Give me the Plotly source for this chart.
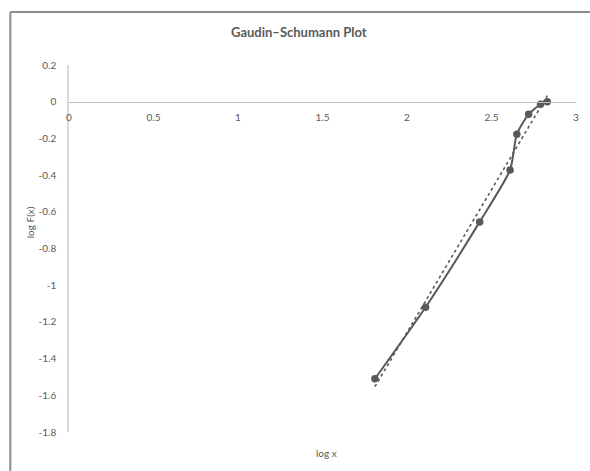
import numpy as np
import plotly.graph_objects as go

# Gaudin-Schumann data: log of particle size vs log of cumulative fraction passing
log_x = [1.81, 2.11, 2.43, 2.61, 2.65, 2.72, 2.79, 2.83]
log_F = [-1.51, -1.12, -0.655, -0.372, -0.177, -0.068, -0.014, 0.0]

x_ticks = [0, 0.5, 1, 1.5, 2, 2.5, 3]
x_tick_text = ["0", "0.5", "1", "1.5", "2", "2.5", "3"]
y_ticks = [0.2, 0, -0.2, -0.4, -0.6, -0.8, -1, -1.2, -1.4, -1.6, -1.8]
y_tick_text = ["0.2", "0", "-0.2", "-0.4", "-0.6", "-0.8", "-1", "-1.2", "-1.4", "-1.6", "-1.8"]

title_text = "Gaudin\u2013Schumann Plot"
x_title = "log x"
y_title = "log F(x)"

INK = "#595959"
FONT = "Lato, 'Open Sans', sans-serif"

# linear trendline through the data
slope, intercept = np.polyfit(log_x, log_F, 1)
trend_x = [min(log_x), max(log_x)]
trend_y = [slope * v + intercept for v in trend_x]

fig = go.Figure()
fig.add_trace(go.Scatter(
    x=trend_x, y=trend_y, mode="lines",
    line=dict(color=INK, width=1.6, dash="dot"),
    showlegend=False, hoverinfo="skip",
))
fig.add_trace(go.Scatter(
    x=log_x, y=log_F, mode="lines+markers",
    line=dict(color=INK, width=2, shape="spline", smoothing=0.6),
    marker=dict(color=INK, size=7.5, symbol="circle"),
    showlegend=False,
))

# chart frame: only the top and left edges fall inside the page
frame = dict(color="#8c8c8c", width=2)

fig.update_layout(
    width=590, height=471,
    margin=dict(l=69, r=11, t=65, b=39),
    paper_bgcolor="white", plot_bgcolor="white",
    font=dict(family=FONT, size=10, color=INK),
    xaxis=dict(
        range=[0, 3], tickvals=x_ticks, ticktext=x_tick_text,
        showgrid=False, zeroline=False,
        showline=True, linecolor="#bfbfbf", linewidth=1,
        anchor="free", position=0.9, side="bottom",
        ticks="", ticklabelstandoff=6,
        tickfont=dict(size=10, color=INK),
    ),
    yaxis=dict(
        range=[-1.8, 0.2], tickvals=y_ticks, ticktext=y_tick_text,
        showgrid=False, zeroline=False,
        showline=True, linecolor="#d9d9d9", linewidth=1.5,
        ticks="", ticklabelstandoff=9,
        tickfont=dict(size=10, color=INK),
    ),
    annotations=[
        dict(text="<b>" + title_text + "</b>", xref="paper", yref="paper",
             x=0.453, y=1.09, xanchor="center", yanchor="middle", showarrow=False,
             font=dict(size=13, color=INK, family=FONT)),
        dict(text=x_title, xref="paper", yref="paper",
             x=0.508, y=-0.057, xanchor="center", yanchor="middle", showarrow=False,
             font=dict(size=10, color=INK, family=FONT)),
        dict(text=y_title, xref="paper", yref="paper",
             x=-0.0765, y=0.572, xanchor="center", yanchor="middle",
             showarrow=False, textangle=-90,
             font=dict(size=10, color=INK, family=FONT)),
    ],
    shapes=[
        dict(type="line", xref="paper", yref="paper",
             x0=-0.1157, y0=1.1444, x1=1.05, y1=1.1444, line=frame),
        dict(type="line", xref="paper", yref="paper",
             x0=-0.1157, y0=1.1444, x1=-0.1157, y1=-0.15, line=frame),
    ],
)

fig.write_html("out.html")
